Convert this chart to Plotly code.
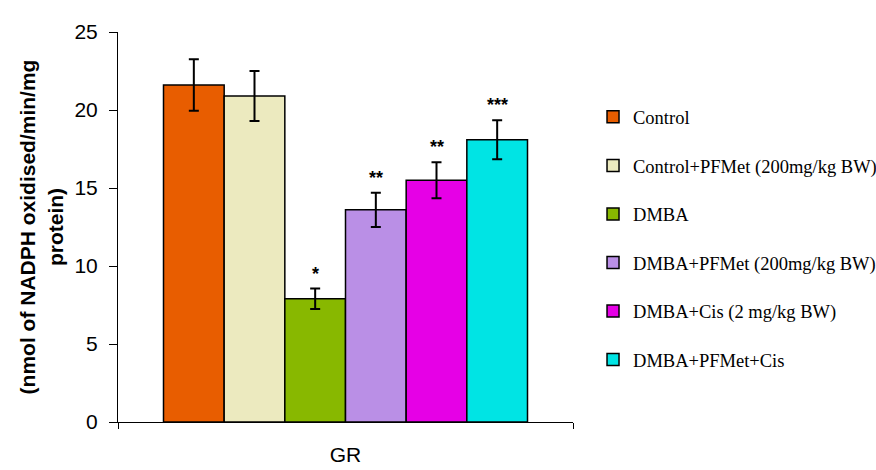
import plotly.graph_objects as go

groups = ["Control", "Control+PFMet (200mg/kg BW)", "DMBA",
          "DMBA+PFMet (200mg/kg BW)", "DMBA+Cis (2 mg/kg BW)", "DMBA+PFMet+Cis"]
category = ["GR"]
values = [21.6, 20.9, 7.9, 13.6, 15.5, 18.1]
errors = [1.65, 1.6, 0.65, 1.1, 1.15, 1.25]
stars = ["", "", "*", "**", "**", "***"]
colors = ["#E85D00", "#ECEABF", "#88B800", "#BA8FE6", "#E600E6", "#00E4E4"]

fig = go.Figure()
n = len(groups)
bargap = 0.2
for i, (g, v, e, c) in enumerate(zip(groups, values, errors, colors)):
    fig.add_trace(go.Bar(
        name=g, x=category, y=[v], legendgroup=g,
        marker=dict(color=c, line=dict(color="black", width=1.5)),
        error_y=dict(type="data", array=[e], visible=True, color="black",
                     thickness=2, width=5),
    ))

annotations = []
for i, (v, e, s) in enumerate(zip(values, errors, stars)):
    if not s:
        continue
    xpos = -(1 - bargap) / 2 + (i + 0.5) * (1 - bargap) / n
    annotations.append(dict(x=xpos, y=v + e, xref="x", yref="y", text="<b>" + s + "</b>",
                            showarrow=False, yanchor="bottom", yshift=3,
                            font=dict(family="Arial", size=18, color="black")))

fig.update_layout(
    width=900, height=470,
    margin=dict(l=118, r=327, t=32, b=48),
    plot_bgcolor="white", paper_bgcolor="white",
    barmode="group", bargap=bargap, bargroupgap=0,
    annotations=annotations,
    showlegend=True,
    legend=dict(x=1.044, y=0.83, xanchor="left", yanchor="top",
                font=dict(family="Liberation Serif", size=18.5, color="black"),
                tracegroupgap=21.5, itemwidth=30, bgcolor="rgba(0,0,0,0)"),
    font=dict(family="Arial", color="black"),
)
fig.update_xaxes(showline=True, linecolor="black", linewidth=1, automargin=False,
                 ticks="outside", tickson="boundaries", ticklen=6, tickcolor="black",
                 ticklabelstandoff=14,
                 tickfont=dict(family="Arial", size=21, color="black"))
fig.update_yaxes(range=[0, 25], dtick=5, showgrid=False, zeroline=False, automargin=False,
                 showline=True, linecolor="black", linewidth=1,
                 ticks="outside", ticklen=8, tickcolor="black",
                 ticklabelstandoff=7,
                 tickfont=dict(family="Arial", size=21, color="black"),
                 title=dict(text="<b>(nmol of NADPH oxidised/min/mg<br>protein)</b>",
                            font=dict(family="Arial", size=21, color="black"),
                            standoff=5))

fig.write_html("out.html", config={"displayModeBar": False},
               post_script="document.body.style.margin='0';document.body.style.overflow='hidden';")
